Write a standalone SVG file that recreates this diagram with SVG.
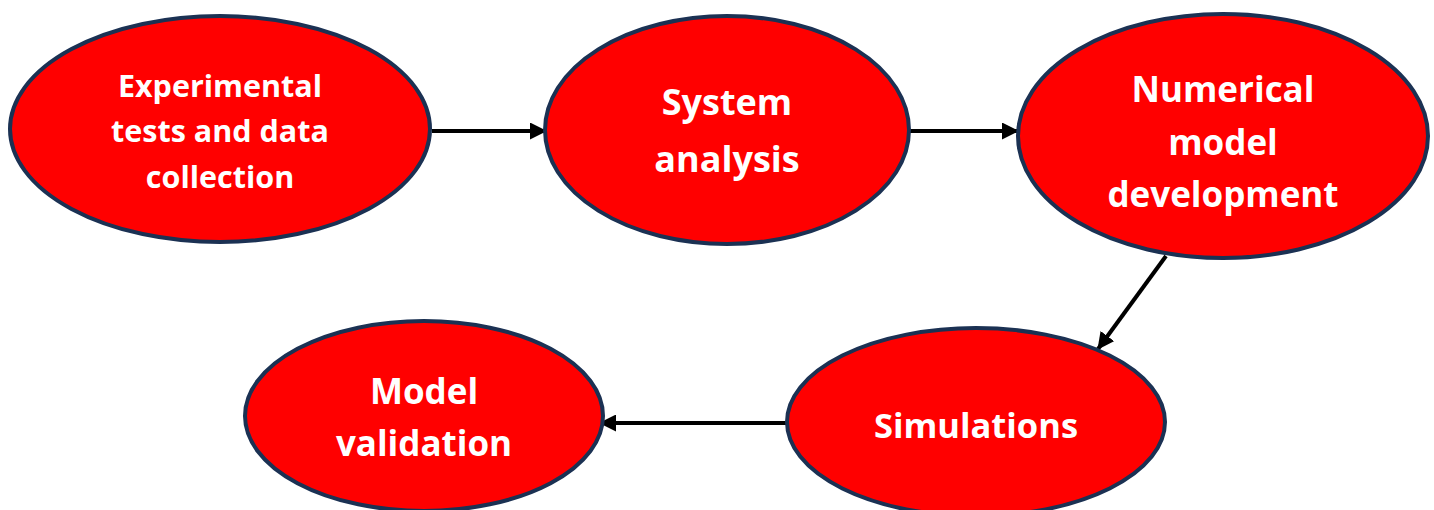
<svg xmlns="http://www.w3.org/2000/svg" width="1434" height="510" viewBox="0 0 1434 510">
  <style>
    .node ellipse { fill: #FF0000; stroke: #1B3153; stroke-width: 4; }
    .node text { fill: #FFFFFF; font-family: "Open Sans", Lato, "Liberation Sans", sans-serif; font-weight: bold; text-anchor: middle; }
    .conn line { stroke: #000000; stroke-width: 4; }
  </style>
  <defs>
    <marker id="arrow" markerUnits="userSpaceOnUse" markerWidth="18" markerHeight="17" refX="16" refY="8.5" orient="auto">
      <path d="M0,0 L17,8.5 L0,17 Z" fill="#000000"/>
    </marker>
  </defs>
  <rect width="1434" height="510" fill="#FFFFFF"/>
  <g id="connectors" class="conn">
    <line x1="432" y1="131" x2="546" y2="131" marker-end="url(#arrow)"/>
    <line x1="910" y1="131" x2="1018" y2="131" marker-end="url(#arrow)"/>
    <line x1="1166" y1="256" x2="1098" y2="349" marker-end="url(#arrow)"/>
    <line x1="787" y1="423" x2="600" y2="423" marker-end="url(#arrow)"/>
  </g>
  <g id="node-experimental" class="node">
    <ellipse cx="220" cy="129" rx="210" ry="113"/>
    <text font-size="30.5"><tspan x="220" y="97">Experimental</tspan><tspan x="220" y="142">tests and data</tspan><tspan x="220" y="188">collection</tspan></text>
  </g>
  <g id="node-system" class="node">
    <ellipse cx="727" cy="130" rx="182" ry="114"/>
    <text font-size="36"><tspan x="727" y="115">System</tspan><tspan x="727" y="172">analysis</tspan></text>
  </g>
  <g id="node-numerical" class="node">
    <ellipse cx="1223" cy="136" rx="205" ry="122"/>
    <text font-size="35"><tspan x="1223" y="102">Numerical</tspan><tspan x="1223" y="155">model</tspan><tspan x="1223" y="207">development</tspan></text>
  </g>
  <g id="node-simulations" class="node">
    <ellipse cx="976" cy="422" rx="189" ry="94"/>
    <text font-size="34.5"><tspan x="976" y="438">Simulations</tspan></text>
  </g>
  <g id="node-validation" class="node">
    <ellipse cx="424" cy="416" rx="179" ry="95"/>
    <text font-size="35"><tspan x="424" y="404">Model</tspan><tspan x="424" y="456">validation</tspan></text>
  </g>
</svg>
